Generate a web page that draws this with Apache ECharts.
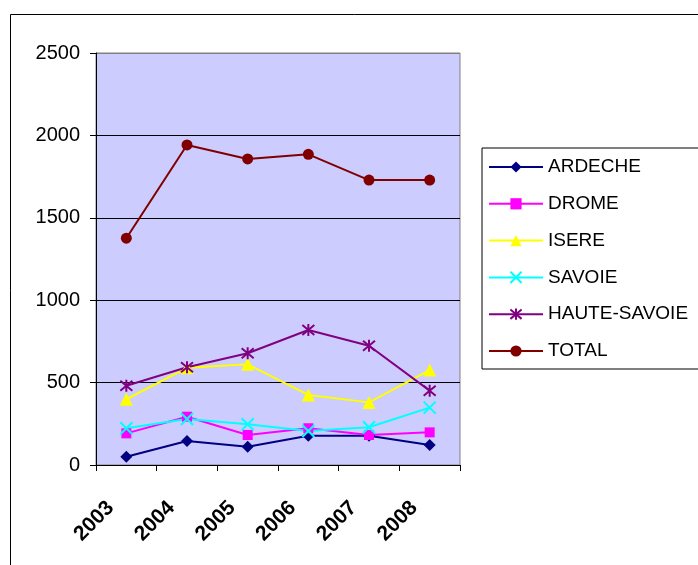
<!DOCTYPE html>
<html>
<head>
<meta charset="utf-8">
<script src="https://cdn.jsdelivr.net/npm/echarts@6/dist/echarts.min.js"></script>
<style>
html,body{margin:0;padding:0;background:#fff;}
#chart{width:698px;height:565px;}
</style>
</head>
<body>
<div id="chart"></div>
<script>
const categories = ['2003', '2004', '2005', '2006', '2007', '2008'];
const ardeche = [50, 146, 111, 178, 178, 121];
const drome = [192, 293, 182, 223, 182, 198];
const isere = [399, 590, 611, 425, 380, 576];
const savoie = [223, 279, 247, 206, 229, 348];
const hauteSavoie = [481, 593, 678, 819, 724, 451];
const total = [1376, 1942, 1857, 1885, 1729, 1729];
const yTicks = [0, 500, 1000, 1500, 2000, 2500];

const FONT = 'Liberation Sans, Arial, sans-serif';
const XPATH = 'path://M0,0L10,10M10,0L0,10';
const STARPATH = 'path://M0,0L10,10M10,0L0,10M5,-1L5,11';

function mk(name, data, color, symbol, size, stroke) {
  return {
    name: name,
    type: 'line',
    data: data,
    symbol: symbol,
    symbolSize: size,
    showSymbol: true,
    lineStyle: {color: color, width: 2},
    itemStyle: stroke ? {color: 'none', borderColor: color, borderWidth: 2} : {color: color, borderWidth: 0},
    emphasis: {disabled: true},
    z: 3
  };
}

const chart = echarts.init(document.getElementById('chart'));
chart.setOption({
  animation: false,
  backgroundColor: '#fff',
  graphic: [{
    type: 'rect',
    shape: {x: 10.5, y: 14.5, width: 800, height: 700},
    style: {fill: 'none', stroke: '#000', lineWidth: 1},
    z: -10
  }],
  grid: {
    left: 96, right: 238, top: 53, bottom: 100,
    show: true, backgroundColor: '#CCCCFF', borderColor: '#808080', borderWidth: 1
  },
  legend: {
    orient: 'vertical',
    left: 482, top: 148,
    padding: [9, 300, 8, 6],
    borderColor: '#000', borderWidth: 1,
    backgroundColor: '#fff',
    itemWidth: 54, itemHeight: 14, itemGap: 16.8,
    textStyle: {fontFamily: FONT, fontSize: 19, color: '#000', lineHeight: 20},
    data: ['ARDECHE', 'DROME', 'ISERE', 'SAVOIE', 'HAUTE-SAVOIE', 'TOTAL']
  },
  xAxis: {
    type: 'category',
    data: categories,
    boundaryGap: true,
    axisLine: {lineStyle: {color: '#000', width: 1}},
    axisTick: {show: true, length: 6, lineStyle: {color: '#000'}},
    axisLabel: {
      rotate: 45, margin: 24, padding: [0, 22, 0, 0],
      fontFamily: FONT, fontSize: 21, fontWeight: 'bold', color: '#000'
    },
    splitLine: {show: false}
  },
  yAxis: {
    type: 'value',
    min: 0, max: 2500, interval: 500,
    axisLine: {show: true, lineStyle: {color: '#000', width: 1}},
    axisTick: {show: true, length: 6, lineStyle: {color: '#000'}},
    axisLabel: {
      margin: 16, fontFamily: FONT, fontSize: 20, color: '#000',
      formatter: function (v) { return yTicks.indexOf(v) >= 0 ? String(v) : ''; }
    },
    splitLine: {show: true, lineStyle: {color: ['#000', '#000', '#000', '#000', '#000', '#808080'], width: 1}}
  },
  series: [
    mk('ARDECHE', ardeche, '#000080', 'diamond', 12, false),
    mk('DROME', drome, '#FF00FF', 'rect', 10, false),
    mk('ISERE', isere, '#FFFF00', 'triangle', 13, false),
    mk('SAVOIE', savoie, '#00FFFF', XPATH, 12, true),
    mk('HAUTE-SAVOIE', hauteSavoie, '#800080', STARPATH, 12, true),
    mk('TOTAL', total, '#800000', 'circle', 11, false)
  ]
});
</script>
</body>
</html>
